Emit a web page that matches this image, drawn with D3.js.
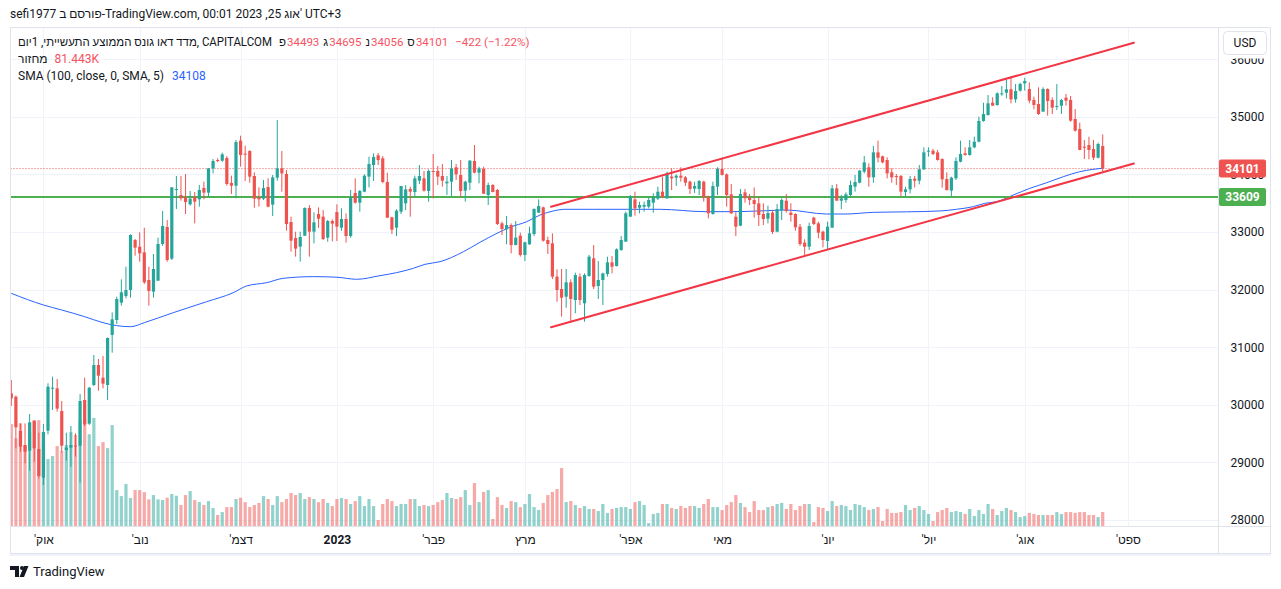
<!DOCTYPE html>
<html><head><meta charset="utf-8">
<script src="https://cdn.jsdelivr.net/npm/d3@7"></script>
<style>
html,body{margin:0;padding:0;background:#fff;overflow:hidden;}
svg{display:block;font-family:Roboto,"Noto Sans",sans-serif;}
</style></head><body>
<svg id="c" width="1281" height="589"></svg>
<script>
// ---------- DATA ----------
const openV=[30199,30141,29545,29302,29204,29719,29233,28735,29551,30280,30286,29892,29215,29256,29290,29290,30083,29672,30344,30691,30471,30344,31212,31472,31773,31889,31993,32861,32745,32647,
32167,31964,32155,32792,33087,32537,33729,33642,33602,33480,33608,33567,33764,33683,34105,34250,34238,34285,33851,33804,34586,34360,34406,33972,33602,33579,33781,33475,33943,34105,
34007,33174,32896,32745,32936,33417,33006,33312,33266,32902,33191,33347,33075,33226,32930,33677,33509,33700,33961,34163,34331,34279,33868,33255,33075,33353,33498,33747,33694,33891,33932,
33712,34059,34059,33972,33845,33874,34123,33990,33718,33856,34233,34030,34094,33642,33816,33729,33150,33046,33121,32774,32936,32601,32786,32965,33336,33428,32861,32803,32225,32010,31877,
32126,31819,32225,31762,32236,32543,32062,32167,32271,32473,32410,32687,32832,33266,33567,33422,33440,33440,33509,33579,33700,33585,33961,33943,33978,33949,33874,33752,33747,33874,
33613,33312,33787,34094,34001,33654,33266,33110,33689,33602,33556,33498,33312,33232,33336,33006,33382,33544,33336,33312,33093,32815,32745,33249,33150,33006,32844,33075,33758,33544,33556,
33642,33787,33856,34047,34123,33949,34383,34314,34250,34036,33972,33972,33694,33741,33926,33891,34088,34395,34412,34383,34267,33920,33718,33932,34221,34366,34337,34470,34568,34927,
35031,35245,35205,35396,35419,35477,35303,35454,35581,35483,35292,35222,35089,35483,35292,35176,35193,35332,35292,34962,34788,34481,34510,34441,34290,34493];
const highV=[30431,30160,29678,29678,29840,29730,29516,29667,30373,30488,30448,30066,29516,29632,29505,30188,30471,30310,30865,30795,30847,31170,31605,31877,32178,32398,32959,32878,32994,33075,
32398,32618,32902,33365,33208,33780,33972,33972,34007,33712,33694,33816,33874,34110,34267,34280,34377,34319,33978,34597,34672,34499,34420,34036,33775,33903,33932,33990,34944,34406,
34076,33266,33006,33006,33428,33469,33341,33428,33382,33208,33220,33480,33411,33324,33729,33932,33729,34001,34308,34366,34372,34319,34030,33266,33394,33800,33816,33787,33978,34163,34059,
34088,34354,34146,34181,33972,34250,34181,34250,33891,34250,34510,34134,34134,33856,33830,33747,33179,33278,33150,33191,32988,32832,33093,33411,33567,33440,32919,32977,32352,32358,32358,
32178,32294,32282,32282,32601,32774,32496,32294,32572,32583,32716,32930,33353,33642,33700,33527,33527,33596,33671,33787,33961,34047,34105,34001,34123,33972,33891,33874,33903,33891,
33631,33874,34123,34279,34018,33833,33341,33747,33747,33660,33775,33602,33498,33457,33382,33486,33585,33660,33498,33324,33139,32873,33162,33266,33179,33023,33179,33816,33833,33642,33689,
33891,33990,34076,34319,34192,34493,34586,34325,34296,34105,34007,33990,33787,33972,33972,34163,34470,34470,34441,34424,34279,34036,33961,34296,34586,34470,34597,34655,35002,35245,
35378,35338,35425,35535,35639,35697,35569,35593,35679,35598,35350,35512,35512,35495,35338,35569,35309,35396,35361,35135,34898,34597,34655,34597,34551,34695];
const lowV=[29979,29244,29186,28984,28856,29013,28723,28608,29487,29910,29881,29175,29030,28926,29100,28648,29632,29650,30326,30245,30286,30083,30905,31403,31721,31848,31860,32589,32485,32097,
31721,31860,32150,32757,32485,32514,33399,33544,33312,33457,33150,33440,33567,33613,34018,34210,34220,33804,33660,33585,34134,33885,33856,33422,33440,33556,33430,33278,33891,33700,
33023,32659,32572,32485,32936,32572,32803,33069,32860,32832,32838,32844,33023,32815,32900,33492,33353,33690,33775,33885,34163,33845,33240,32965,32930,33312,33382,33266,33613,33833,33700,
33527,33585,33816,33787,33642,33625,33903,33602,33527,33729,34018,33845,33660,33469,33690,33121,32948,32786,32630,32770,32572,32496,32780,32930,33330,32832,32618,32184,31790,31530,31686,
31455,31588,31733,31443,32225,32010,31837,31733,32225,32282,32400,32676,32832,33266,33284,33324,33353,33411,33336,33556,33585,33573,33729,33799,33874,33799,33660,33677,33642,33527,
33237,33300,33642,33980,33440,33312,32930,33100,33509,33469,33249,33104,33121,33150,32965,32995,33208,33336,33179,33023,32757,32601,32687,33121,32890,32734,32699,33075,33544,33399,33509,
33602,33700,33845,34018,33787,33856,34209,34192,33932,33856,33816,33625,33625,33671,33775,33828,34076,34308,34337,34238,33770,33718,33625,33903,34209,34325,34325,34453,34557,34915,
35020,35190,35190,35367,35321,35234,35245,35437,35454,35234,35130,35032,35089,35020,35049,35118,35049,35193,34915,34741,34420,34267,34262,34250,34279,34056];
const closeV=[30112,29609,29273,29186,29696,29244,28764,29528,30315,30297,29933,29290,29256,29302,29273,30066,29661,30297,30691,30506,30367,31160,31484,31837,31953,31993,32948,32728,32630,32126,
31976,32358,32792,33104,32514,33775,33747,33585,33521,33579,33527,33729,33683,34105,34233,34233,34348,33833,33804,34562,34337,34348,33961,33579,33567,33764,33440,33949,34105,34018,
33139,32850,32711,32913,33417,33006,33168,33231,32878,33191,33145,33093,33226,32930,33596,33509,33712,33978,34181,34302,34250,33868,33249,33040,33370,33799,33741,33700,33932,33972,33718,
34059,34047,33961,33891,33874,34105,34001,33712,33874,34238,34030,34105,33665,33816,33694,33139,33052,33121,32774,32902,32601,32821,32977,33399,33451,32850,32792,32225,31993,31860,32126,
31837,32253,31819,32253,32572,32051,32167,32282,32473,32398,32699,32861,33324,33613,33411,33469,33469,33556,33602,33700,33602,34018,33932,33978,33943,33856,33747,33799,33885,33602,
33324,33799,34094,33990,33642,33324,33093,33660,33585,33556,33486,33295,33226,33330,33000,33399,33556,33365,33295,33081,32792,32745,33104,33139,32988,32861,33093,33758,33544,33585,33654,
33816,33868,34065,34209,33949,34383,34290,34209,34018,33949,33961,33700,33741,33920,33891,34088,34383,34412,34354,34250,33914,33729,33943,34233,34354,34337,34470,34568,34927,35049,
35234,35193,35407,35407,35477,35303,35448,35569,35622,35280,35205,35049,35483,35274,35159,35188,35292,35280,34933,34759,34424,34470,34424,34290,34528,34101];
const volumeK=[593,510,597,470,542,616,616,477,390,407,465,436,471,546,529,616,620,534,629,465,488,453,587,209,174,244,163,209,209,197,
155,180,155,151,165,186,176,122,180,203,151,139,122,145,105,64,81,110,110,157,165,139,110,122,134,174,157,122,174,139,
157,192,180,192,157,168,157,139,157,134,116,157,163,157,128,145,174,116,157,116,35,128,157,145,116,128,128,157,157,116,122,
116,122,139,151,192,163,157,168,209,122,250,139,198,209,41,168,122,105,145,139,110,128,186,110,93,134,180,198,215,337,139,
145,122,105,116,99,99,87,128,76,99,105,110,110,99,139,145,122,17,70,76,128,128,105,99,116,105,116,116,105,128,
157,110,110,93,122,139,180,134,110,81,145,93,93,110,116,128,134,99,128,93,116,128,128,23,110,105,87,145,116,122,116,
93,128,122,110,93,99,110,29,99,76,76,81,122,93,105,116,93,70,29,81,93,105,81,87,81,70,99,58,93,70,
128,99,64,87,105,93,81,52,58,76,70,64,64,64,64,81,70,81,81,76,81,81,64,64,52,81.443];
// SMA(100) line: bar index -> value
const smaIdx=[0,7,11,16,20,23,26,29,35.3,42.6,48.4,51.3,55.7,59.3,65.9,71,75.3,80.4,84,87.7,90.2,93.5,98.6,102.2,105.9,108.7,112.4,115.3,118.2,120.7,126.9,134.2,141.5,151.3,157.4,164.7,169,177.8,181.8,188,195.2,202.5,206.1,209.8,212.3,214.9,218.5,222.1,225.8,229.4,233,235.9,238];
const smaVal=[31935,31733,31646,31530,31426,31374,31356,31426,31599,31790,31946,32063,32120,32196,32225,32215,32179,32242,32294,32370,32439,32485,32658,32821,32977,33081,33179,33295,33365,33394,33394,33394,33394,33353,33353,33370,33382,33312,33312,33341,33350,33365,33394,33440,33498,33527,33642,33758,33856,33960,34047,34088,34108];
const priceTicks=[28000,29000,30000,31000,32000,33000,34000,35000,36000];
const monthIdx=[7,28,50,71,92,112,135,155,178,200,221,243.5];
const monthLabels=["אוק'","נוב'","דצמ'","2023","פבר'","מרץ","אפר'","מאי","יונ'","יול'","אוג'","ספט'"];
const supportLevel=33609;
const lastClose=34101;
const trendUpper=[[117.7,33439],[244.8,36285]];
const trendLower=[[117.7,31347],[244.8,34189]];
const titleText="sefi1977 פורסם ב-TradingView.com, 00:01 2023 ,25 אוג' UTC+3";
const symbolText="מדד דאו גונס הממוצע התעשייתי, 1יום, CAPITALCOM";
const ohlcLabels=["פ","ג","נ","ס"];
const ohlcValues=["34493","34695","34056","34101"];
const changeText="−422 (−1.22%)";
const volLabel="מחזור", volValue="81.443K";
const smaLabel="SMA (100, close, 0, SMA, 5)", smaLast="34108";

// ---------- DRAW ----------
const svg=d3.select('#c');
const PL=10.5,PR=1218.5,PT=27.5,PB=526.5;
const x=d3.scaleLinear().domain([0,238]).range([11.3,1102.7]);
const y=d3.scaleLinear().domain([28000,36000]).range([520,59.2]);
const yv=d3.scaleLinear().domain([0,640]).range([526,416]);
const RED='#ef5350',GREEN='#26a69a',GRID='#f0f3fa',BORDER='#e0e3eb',TXT='#131722',LRED='#f7525f';

svg.append('rect').attr('width',1281).attr('height',589).attr('fill','#fff');
svg.append('defs').append('clipPath').attr('id','pc').append('rect')
  .attr('x',PL).attr('y',PT).attr('width',PR-PL).attr('height',PB-PT);

const data=openV.map((o,i)=>({i,o,h:highV[i],l:lowV[i],c:closeV[i],v:volumeK[i]}));
const up=d=>d.c>=d.o;

const plot=svg.append('g').attr('clip-path','url(#pc)');
// grid
plot.selectAll('.hg').data(priceTicks).join('line')
  .attr('x1',PL).attr('x2',PR).attr('y1',d=>Math.round(y(d))+0.5).attr('y2',d=>Math.round(y(d))+0.5)
  .attr('stroke',GRID).attr('stroke-width',1);
plot.selectAll('.vg').data(monthIdx).join('line')
  .attr('x1',d=>Math.round(x(d))+0.5).attr('x2',d=>Math.round(x(d))+0.5).attr('y1',PT).attr('y2',PB)
  .attr('stroke',GRID).attr('stroke-width',1);
// volume
plot.selectAll('.vol').data(data).join('rect')
  .attr('x',d=>x(d.i)-1.6).attr('width',3.2)
  .attr('y',d=>yv(d.v)).attr('height',d=>yv(0)-yv(d.v))
  .attr('fill',d=>up(d)?'rgba(38,166,154,0.5)':'rgba(239,83,80,0.5)');
// last price dotted line
plot.append('line').attr('x1',PL).attr('x2',PR).attr('y1',y(lastClose)).attr('y2',y(lastClose))
  .attr('stroke',RED).attr('stroke-width',1).attr('stroke-dasharray','1,2');
// SMA
const smaPts=smaIdx.map((d,i)=>[d,smaVal[i]]);
plot.append('path').datum(smaPts)
  .attr('d',d3.line().x(d=>x(d[0])).y(d=>y(d[1])).curve(d3.curveMonotoneX))
  .attr('fill','none').attr('stroke','#2962ff').attr('stroke-width',1);
// support line
plot.append('line').attr('x1',PL).attr('x2',PR).attr('y1',y(supportLevel)).attr('y2',y(supportLevel))
  .attr('stroke','#4caf50').attr('stroke-width',2);
// candles
const cg=plot.append('g');
cg.selectAll('.wick').data(data).join('line')
  .attr('x1',d=>x(d.i)).attr('x2',d=>x(d.i)).attr('y1',d=>y(d.h)).attr('y2',d=>y(d.l))
  .attr('stroke',d=>up(d)?GREEN:RED).attr('stroke-width',1);
cg.selectAll('.body').data(data).join('rect')
  .attr('x',d=>x(d.i)-1.6).attr('width',3.2)
  .attr('y',d=>Math.min(y(d.o),y(d.c)))
  .attr('height',d=>Math.max(1,Math.abs(y(d.o)-y(d.c))))
  .attr('fill',d=>up(d)?GREEN:RED);
// trend lines
const tl=d3.line().x(d=>x(d[0])).y(d=>y(d[1]));
[trendUpper,trendLower].forEach(t=>{
  plot.append('path').datum(t).attr('d',tl).attr('fill','none')
    .attr('stroke','#f23645').attr('stroke-width',2).attr('stroke-linecap','round');
});

// frame
const fr=svg.append('g').attr('stroke',BORDER).attr('stroke-width',1);
fr.append('line').attr('x1',10).attr('x2',1271).attr('y1',27.5).attr('y2',27.5);
fr.append('line').attr('x1',10).attr('x2',1271).attr('y1',553.5).attr('y2',553.5);
fr.append('line').attr('x1',10.5).attr('x2',10.5).attr('y1',27).attr('y2',554);
fr.append('line').attr('x1',1270.5).attr('x2',1270.5).attr('y1',27).attr('y2',554);
fr.append('line').attr('x1',PR).attr('x2',PR).attr('y1',27).attr('y2',554);
fr.append('line').attr('x1',10).attr('x2',1271).attr('y1',PB).attr('y2',PB);
svg.append('rect').attr('x',10).attr('y',554).attr('width',1261).attr('height',2).attr('fill',GRID);

// price axis
const ya=svg.append('g').attr('transform',`translate(${PR},0)`)
  .call(d3.axisRight(y).tickValues(priceTicks).tickSize(0).tickPadding(12).tickFormat(d=>String(d)));
ya.select('.domain').remove();
ya.selectAll('text').attr('font-size',12).attr('fill',TXT).attr('font-family','Roboto,"Noto Sans",sans-serif');
// top of the price scale is covered (as in the reference the 36000 label is cut)
svg.append('rect').attr('x',1219).attr('y',28).attr('width',51).attr('height',30.5).attr('fill','#fff');

// time axis
const xa=svg.append('g').attr('transform',`translate(0,${PB})`)
  .call(d3.axisBottom(x).tickValues(monthIdx).tickSize(0).tickPadding(9).tickFormat((d,i)=>monthLabels[i]));
xa.select('.domain').remove();
xa.selectAll('text').attr('font-size',12).attr('fill',TXT).attr('font-family','Roboto,"Noto Sans",sans-serif')
  .style('direction','rtl').style('unicode-bidi','embed')
  .attr('font-weight',(d,i)=>monthLabels[i]==='2023'?'bold':'normal');

// USD box
svg.append('rect').attr('x',1223.5).attr('y',31.5).attr('width',43).attr('height',23).attr('rx',4)
  .attr('fill','#fff').attr('stroke',BORDER);
svg.append('text').attr('x',1245).attr('y',47).attr('text-anchor','middle').attr('font-size',12)
  .attr('fill',TXT).text('USD');

// price labels
function priceTag(v,col){
  const yy=y(v);
  svg.append('rect').attr('x',1219).attr('y',yy-9).attr('width',47).attr('height',18).attr('rx',2).attr('fill',col);
  svg.append('text').attr('x',1242.5).attr('y',yy+4.5).attr('text-anchor','middle').attr('font-size',12)
    .attr('font-weight','bold').attr('fill','#fff').text(String(v));
}
priceTag(lastClose,RED);
priceTag(supportLevel,'#4caf50');

// title
svg.append('text').attr('x',10).attr('y',18).attr('font-size',12).attr('fill',TXT).text(titleText);

// legend
function flow(items,yy,x0){
  let cx=x0;
  items.forEach(it=>{
    cx+=it.gap||0;
    const t=svg.append('text').attr('x',cx).attr('y',yy).attr('font-size',it.fs||12).attr('fill',it.col).text(it.t);
    if(it.len){t.attr('textLength',it.len).attr('lengthAdjust','spacingAndGlyphs');cx+=it.len;}
    else cx+=t.node().getComputedTextLength();
  });
}
const L1=[{t:symbolText,col:TXT,len:254}];
ohlcLabels.forEach((l,i)=>{L1.push({t:l,col:TXT,gap:i===0?7:4,fs:11.5});L1.push({t:ohlcValues[i],col:LRED,gap:1,fs:11.5});});
L1.push({t:changeText,col:LRED,gap:7,fs:11.5});
flow(L1,46,18);
flow([{t:volLabel,col:TXT},{t:volValue,col:LRED,gap:7}],63,18);
flow([{t:smaLabel,col:TXT},{t:smaLast,col:'#2962ff',gap:8}],80,18);

// TradingView logo
const lg=svg.append('g').attr('fill',TXT);
lg.append('path').attr('d','M10 566 h9 v11 h-4 v-7 h-5 z');
lg.append('circle').attr('cx',22).attr('cy',568).attr('r',2);
lg.append('path').attr('d','M24 566 h4.5 l-4.5 11 h-4.5 z');
svg.append('text').attr('x',33).attr('y',576).attr('font-size',13).attr('fill',TXT).text('TradingView');
</script>
</body></html>
